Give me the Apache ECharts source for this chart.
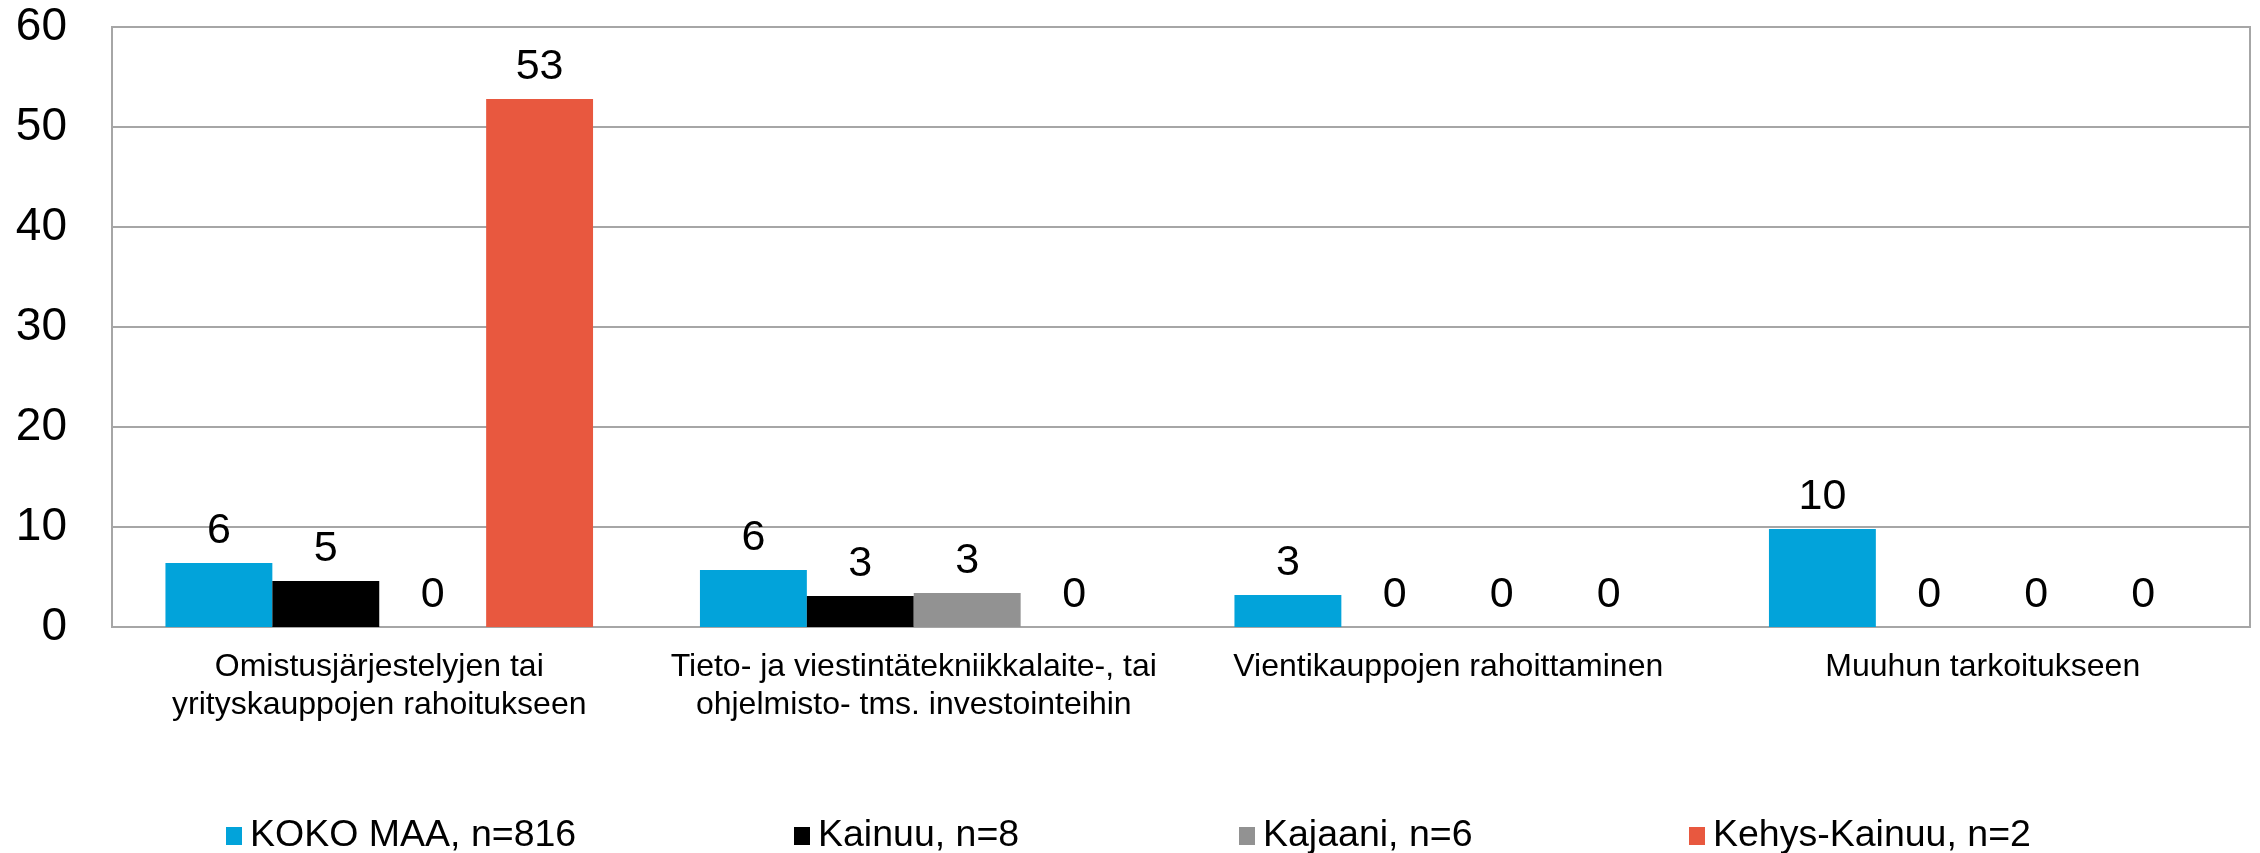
<!DOCTYPE html>
<html><head><meta charset="utf-8">
<script src="https://cdn.jsdelivr.net/npm/echarts@6/dist/echarts.min.js"></script>
<style>html,body{margin:0;padding:0;background:#fff}#c{width:2260px;height:853px}</style>
</head><body><div id="c"></div>
<script>
const categories = [
  "Omistusjärjestelyjen tai\nyrityskauppojen rahoitukseen",
  "Tieto- ja viestintätekniikkalaite-, tai\nohjelmisto- tms. investointeihin",
  "Vientikauppojen rahoittaminen",
  "Muuhun tarkoitukseen"
];
const seriesNames = ["KOKO MAA, n=816", "Kainuu, n=8", "Kajaani, n=6", "Kehys-Kainuu, n=2"];
const kokoMaa = [6.4, 5.7, 3.2, 9.8];
const kainuu = [4.6, 3.1, 0, 0];
const kajaani = [0, 3.4, 0, 0];
const kehysKainuu = [52.8, 0, 0, 0];
const yTicks = [0, 10, 20, 30, 40, 50, 60];

const colors = ["#02A3DA", "#000000", "#929292", "#E8583F"];
const values = [kokoMaa, kainuu, kajaani, kehysKainuu];
const font = "'Liberation Sans', Arial, sans-serif";
const legendLefts = [226, 794, 1239, 1689];

const chart = echarts.init(document.getElementById('c'), null, {renderer: 'canvas'});
chart.setOption({
  backgroundColor: '#fff',
  animation: false,
  grid: {left: 112, right: 10, top: 27, bottom: 226, show: true, borderColor: '#A6A6A6', borderWidth: 2},
  legend: seriesNames.map((n, i) => ({
    data: [n], left: legendLefts[i], top: 817, padding: 0, itemWidth: 16, itemHeight: 18, itemGap: 0,
    icon: 'rect', textStyle: {fontFamily: font, fontSize: 37.5, color: '#000', padding: [0,0,0,3]}
  })),
  xAxis: {
    type: 'category', data: categories,
    axisLine: {lineStyle: {color: '#A6A6A6', width: 2}},
    axisTick: {show: false},
    axisLabel: {fontFamily: font, fontSize: 32, color: '#000', lineHeight: 38, margin: 21, interval: 0}
  },
  yAxis: {
    type: 'value', min: yTicks[0], max: yTicks[yTicks.length-1], interval: yTicks[1]-yTicks[0],
    axisLine: {show: true, lineStyle: {color: '#A6A6A6', width: 2}},
    axisTick: {show: false},
    splitLine: {lineStyle: {color: '#A6A6A6', width: 2}},
    axisLabel: {fontFamily: font, fontSize: 46, color: '#000', margin: 45}
  },
  series: values.map((v, i) => ({
    name: seriesNames[i], type: 'bar', data: v,
    itemStyle: {color: colors[i]},
    barGap: '0%', barCategoryGap: '20%',
    label: {show: true, position: 'top', distance: 10, fontFamily: font, fontSize: 43, color: '#000',
      formatter: p => Math.round(p.value)}
  }))
});
</script></body></html>
